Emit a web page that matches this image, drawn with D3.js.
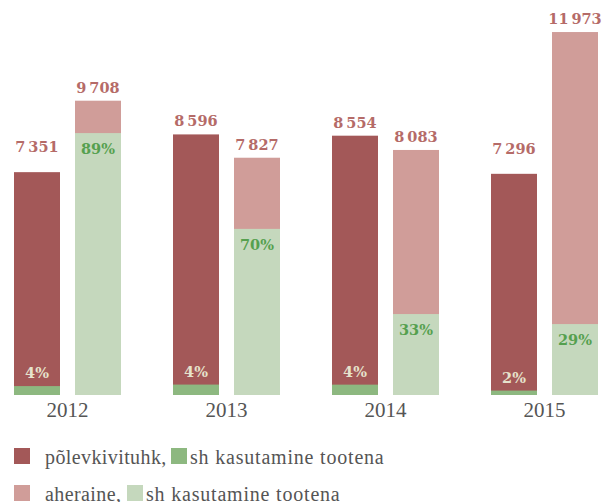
<!DOCTYPE html>
<html>
<head>
<meta charset="utf-8">
<script src="https://cdn.jsdelivr.net/npm/d3@7"></script>
<style>
  body { margin: 0; background: #fff; }
  svg { display: block; }
</style>
</head>
<body>
<svg id="chart" width="603" height="502"></svg>
<script>
// tonnes produced per year (thousand t)
const years = ['2012', '2013', '2014', '2015']
const oilShaleAsh = [7351, 8596, 8554, 7296]
const wasteRock = [9708, 7827, 8083, 11973]
// part of each that was used for products
const ashUsed = [294, 344, 342, 146]
const rockUsed = [8640, 5480, 2670, 2340]
// share labels printed on the bars
const ashUsedPct = ['4%', '4%', '4%', '2%']
const rockUsedPct = ['89%', '70%', '33%', '29%']

const colors = {
  ash: '#a35858',
  rock: '#d09d99',
  ashUsed: '#8db880',
  rockUsed: '#c5d8bd',
  value: '#b56b68',
  pctDark: '#e6e2cc',
  pctLight: '#55a04f',
  axis: '#555'
}

const svg = d3.select('#chart')
const baseline = 395

const x0 = d3.scaleBand()
  .domain(years)
  .range([14, 598])
  .paddingInner(52 / 159)
  .paddingOuter(0)

const x1 = d3.scaleBand()
  .domain(['ash', 'rock'])
  .range([0, x0.bandwidth()])
  .paddingInner(15 / 61)

const y = d3.scaleLinear()
  .domain([0, 13030])
  .range([baseline, 0])

const fmt = d3.formatLocale({ decimal: ',', thousands: '\u2009', grouping: [3], currency: ['', ''] }).format(',d')

const rows = years.map((yr, i) => ({
  year: yr,
  bars: [
    { key: 'ash', total: oilShaleAsh[i], used: ashUsed[i], pct: ashUsedPct[i], lift: (i === 0 || i === 3) ? 20 : 8 },
    { key: 'rock', total: wasteRock[i], used: rockUsed[i], pct: rockUsedPct[i], lift: 8 }
  ]
}))

const groups = svg.selectAll('.year')
  .data(rows)
  .enter()
  .append('g')
  .attr('class', 'year')
  .attr('transform', d => `translate(${x0(d.year)},0)`)

const bars = groups.selectAll('.bar')
  .data(d => d.bars)
  .enter()
  .append('g')
  .attr('class', 'bar')
  .attr('transform', d => `translate(${x1(d.key)},0)`)

// total
bars.append('rect')
  .attr('y', d => y(d.total))
  .attr('width', x1.bandwidth())
  .attr('height', d => baseline - y(d.total))
  .attr('fill', d => colors[d.key])

// used part
bars.append('rect')
  .attr('y', d => y(d.used))
  .attr('width', x1.bandwidth())
  .attr('height', d => baseline - y(d.used))
  .attr('fill', d => colors[d.key + 'Used'])

// value above the bar
bars.append('text')
  .attr('x', x1.bandwidth() / 2)
  .attr('y', d => y(d.total) - d.lift)
  .attr('text-anchor', 'middle')
  .style('font-family', '"DejaVu Serif", serif')
  .style('font-weight', 'bold')
  .style('font-size', '14.5px')
  .attr('fill', colors.value)
  .text(d => fmt(d.total))

// share label
bars.append('text')
  .attr('x', x1.bandwidth() / 2)
  .attr('y', d => d.key === 'ash' ? y(d.used) - 8 : y(d.used) + 21)
  .attr('text-anchor', 'middle')
  .style('font-family', '"DejaVu Serif", serif')
  .style('font-weight', 'bold')
  .style('font-size', '14.5px')
  .attr('fill', d => d.key === 'ash' ? colors.pctDark : colors.pctLight)
  .text(d => d.pct)

// year labels
const xAxis = svg.append('g')
  .attr('transform', `translate(0,${baseline})`)
  .call(d3.axisBottom(x0).tickSize(0).tickPadding(7))
xAxis.select('.domain').remove()
xAxis.selectAll('text')
  .attr('dy', '0.71em')
  .style('font-family', '"Liberation Serif", serif')
  .style('font-size', '21px')
  .attr('fill', colors.axis)

// legend
const legendRows = [
  { y: 448, main: 'põlevkivituhk,', mainColor: colors.ash, usedColor: colors.ashUsed, usedX: 171 },
  { y: 485, main: 'aheraine,', mainColor: colors.rock, usedColor: colors.rockUsed, usedX: 127 }
]
const legend = svg.selectAll('.legend')
  .data(legendRows)
  .enter()
  .append('g')
  .attr('class', 'legend')
  .attr('transform', d => `translate(0,${d.y})`)

legend.append('rect')
  .attr('x', 14).attr('width', 16).attr('height', 16)
  .attr('fill', d => d.mainColor)
legend.append('text')
  .attr('x', 45).attr('y', 15.5)
  .style('font-family', '"Liberation Serif", serif')
  .style('font-size', '20px')
  .style('letter-spacing', '0.4px')
  .attr('fill', colors.axis)
  .text(d => d.main)
legend.append('rect')
  .attr('x', d => d.usedX).attr('width', 16).attr('height', 16)
  .attr('fill', d => d.usedColor)
legend.append('text')
  .attr('x', d => d.usedX + 19).attr('y', 15.5)
  .style('font-family', '"Liberation Serif", serif')
  .style('font-size', '20px')
  .style('letter-spacing', '0.8px')
  .attr('fill', colors.axis)
  .text('sh kasutamine tootena')
</script>
</body>
</html>
